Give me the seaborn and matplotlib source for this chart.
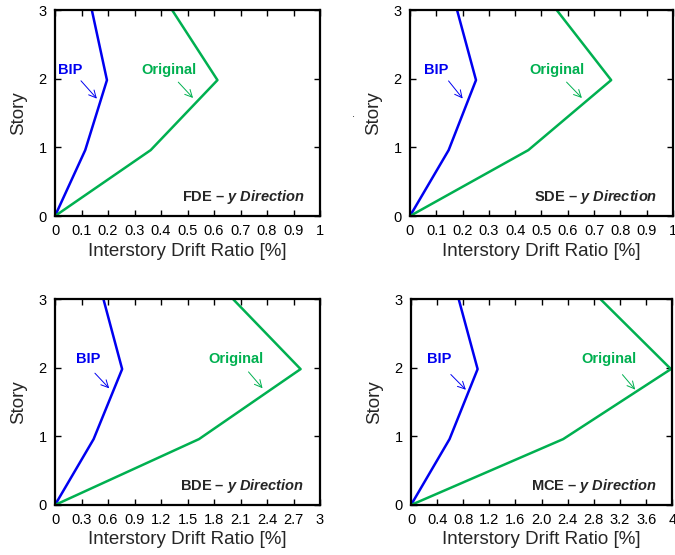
import numpy as np
import pandas as pd
import matplotlib
matplotlib.use("Agg")
import matplotlib.pyplot as plt
import seaborn as sns

# Story levels (kinks sit a little under the integer stories in the source figure)
story = [0, 0.96, 1.98, 3]

# drift ratios [%], per earthquake level
bip_fde = [0, 0.114, 0.196, 0.139]
org_fde = [0, 0.361, 0.613, 0.442]
bip_sde = [0, 0.147, 0.251, 0.179]
org_sde = [0, 0.450, 0.765, 0.558]
bip_bde = [0, 0.437, 0.760, 0.548]
org_bde = [0, 1.630, 2.780, 2.015]
bip_mce = [0, 0.590, 1.020, 0.730]
org_mce = [0, 2.330, 3.980, 2.900]

panel_names = ["FDE", "SDE", "BDE", "MCE"]
x_max = [1, 1, 3, 4]
x_ticklabels = [
    ["0", "0.1", "0.2", "0.3", "0.4", "0.5", "0.6", "0.7", "0.8", "0.9", "1"],
    ["0", "0.1", "0.2", "0.3", "0.4", "0.5", "0.6", "0.7", "0.8", "0.9", "1"],
    ["0", "0.3", "0.6", "0.9", "1.2", "1.5", "1.8", "2.1", "2.4", "2.7", "3"],
    ["0", "0.4", "0.8", "1.2", "1.6", "2.0", "2.4", "2.8", "3.2", "3.6", "4"],
]
bip_series = [bip_fde, bip_sde, bip_bde, bip_mce]
org_series = [org_fde, org_sde, org_bde, org_mce]

# annotation spots: (text x, arrow start x, arrow start y, arrow tip x, arrow tip y)
bip_notes = [(0.057, 0.091, 2.0, 0.165, 1.68),
             (0.10, 0.14, 2.0, 0.207, 1.68),
             (0.37, 0.43, 1.95, 0.635, 1.67),
             (0.43, 0.58, 1.93, 0.87, 1.65)]
org_notes = [(0.429, 0.458, 1.98, 0.528, 1.69),
             (0.56, 0.588, 1.98, 0.661, 1.69),
             (2.05, 2.17, 1.97, 2.37, 1.67),
             (3.03, 3.21, 1.93, 3.46, 1.65)]

BLUE = "#0000F0"
GREEN = "#00B050"

sns.set_theme(style="ticks")
plt.rcParams["font.family"] = ["Liberation Sans", "DejaVu Sans"]
plt.rcParams["mathtext.fontset"] = "custom"
plt.rcParams["mathtext.rm"] = "Liberation Sans"
plt.rcParams["mathtext.bf"] = "Liberation Sans:bold"
plt.rcParams["mathtext.it"] = "Liberation Sans:italic"
plt.rcParams["mathtext.bfit"] = "Liberation Sans:italic:bold"

fig = plt.figure(figsize=(6.75, 5.55), dpi=100)
positions = [
    [0.0815, 0.6108, 0.3926, 0.371],
    [0.6074, 0.6108, 0.3896, 0.371],
    [0.0815, 0.0901, 0.3926, 0.371],
    [0.6089, 0.0901, 0.3870, 0.371],
]

for i in range(4):
    ax = fig.add_axes(positions[i])
    df = pd.DataFrame({
        "drift": bip_series[i] + org_series[i],
        "story": story + story,
        "case": ["BIP"] * 4 + ["Original"] * 4,
    })
    sns.lineplot(data=df, x="drift", y="story", hue="case", sort=False,
                 estimator=None, palette={"BIP": BLUE, "Original": GREEN},
                 linewidth=1.8, legend=False, ax=ax)
    ax.set_xlim(0, x_max[i])
    ax.set_ylim(0, 3)
    ax.set_xticks(np.linspace(0, x_max[i], 11))
    ax.set_xticklabels(x_ticklabels[i])
    ax.set_yticks([0, 1, 2, 3])
    ax.tick_params(direction="in", top=True, right=True, length=4, width=1,
                   labelsize=10.5, pad=6, colors="black")
    for sp in ax.spines.values():
        sp.set_visible(True)
        sp.set_linewidth(1.6)
        sp.set_color("black")
    ax.set_xlabel("Interstory Drift Ratio [%]", fontsize=13.5, labelpad=3)
    ax.set_ylabel("Story", fontsize=13.5, labelpad=8)

    tx, sx, sy, ex, ey = bip_notes[i]
    ax.text(tx, 2.12, "BIP", color=BLUE, fontsize=10.5, fontweight="bold",
            ha="center", va="center")
    ax.annotate("", xy=(ex, ey), xytext=(sx, sy),
                arrowprops=dict(arrowstyle="->", color=BLUE, lw=0.7,
                                mutation_scale=13))
    tx, sx, sy, ex, ey = org_notes[i]
    ax.text(tx, 2.12, "Original", color=GREEN, fontsize=10.5, fontweight="bold",
            ha="center", va="center")
    ax.annotate("", xy=(ex, ey), xytext=(sx, sy),
                arrowprops=dict(arrowstyle="->", color=GREEN, lw=0.7,
                                mutation_scale=13))

    ax.text(0.94, 0.09, panel_names[i] + " \u2013 $\\mathbfit{y\\ Direction}$",
            transform=ax.transAxes, ha="right", va="center",
            fontsize=10.5, fontweight="bold")

fig.text(352 / 675, 1 - 117 / 555, ".", fontsize=8)

fig.savefig("out.png", dpi=100)
